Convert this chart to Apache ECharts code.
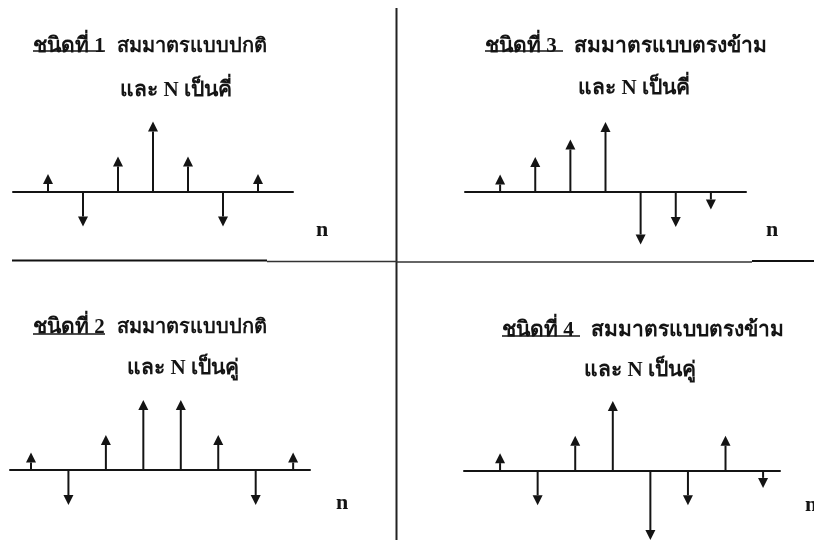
<!DOCTYPE html>
<html>
<head>
<meta charset="utf-8">
<script src="https://cdn.jsdelivr.net/npm/echarts@6/dist/echarts.min.js"></script>
<style>
  html, body { margin: 0; padding: 0; background: #fff; }
  #chart { width: 814px; height: 540px; }
</style>
</head>
<body>
<div id="chart"></div>
<script>
// ลำดับ n ของแต่ละชนิด (N คี่ = 7 จุด, N คู่ = 8 จุด)
var nOdd = [0, 1, 2, 3, 4, 5, 6];
var nEven = [0, 1, 2, 3, 4, 5, 6, 7];

// ค่าของ h(n) ที่อ่านจากภาพ (หน่วยความสูงลูกศร)
var type1 = [1, -2, 2, 4, 2, -2, 1];        // สมมาตรแบบปกติ, N คี่
var type2 = [1, -2, 2, 4, 4, 2, -2, 1];     // สมมาตรแบบปกติ, N คู่
var type3 = [1, 2, 3, 4, -3, -2, -1];       // สมมาตรแบบตรงข้าม, N คี่
var type4 = [1, -2, 2, 4, -4, -2, 2, -1];   // สมมาตรแบบตรงข้าม, N คู่

var titles1 = ['ชนิดที่ 1', 'สมมาตรแบบปกติ', 'และ N เป็นคี่'];
var titles2 = ['ชนิดที่ 2', 'สมมาตรแบบปกติ', 'และ N เป็นคู่'];
var titles3 = ['ชนิดที่ 3', 'สมมาตรแบบตรงข้าม', 'และ N เป็นคี่'];
var titles4 = ['ชนิดที่ 4', 'สมมาตรแบบตรงข้าม', 'และ N เป็นคู่'];

var INK = '#141414';
var FONT = '"Liberation Serif", "Noto Sans", serif';

function pairs(ns, vs) {
  return ns.map(function (n, i) { return [n, vs[i]]; });
}

// ก้านลูกศร + หัวลูกศร
function renderStem(params, api) {
  var x = api.value(0), v = api.value(1);
  var p0 = api.coord([x, 0]);
  var p1 = api.coord([x, v]);
  var dir = v >= 0 ? 1 : -1;
  var ah = 10, aw = 5;
  var baseY = p1[1] + dir * ah;
  return {
    type: 'group',
    children: [
      { type: 'line', shape: { x1: p0[0], y1: p0[1], x2: p1[0], y2: baseY },
        style: { stroke: INK, lineWidth: 2 } },
      { type: 'polygon',
        shape: { points: [[p1[0], p1[1]], [p1[0] - aw, baseY], [p1[0] + aw, baseY]] },
        style: { fill: INK } }
    ]
  };
}

// กรอบของแต่ละแผง
var panels = [
  { ns: nOdd,  vs: type1, grid: { left: 13,  top: 121.5, width: 280, height: 140 }, min: -1,    max: 7 },
  { ns: nOdd,  vs: type3, grid: { left: 465, top: 122,   width: 281, height: 140 }, min: -1,    max: 7 },
  { ns: nEven, vs: type2, grid: { left: 10,  top: 400,   width: 300, height: 140 }, min: -0.56, max: 7.45 },
  { ns: nEven, vs: type4, grid: { left: 464, top: 401,   width: 316, height: 140 }, min: -0.96, max: 7.45 }
];

var grids = [], xAxes = [], yAxes = [], series = [];
panels.forEach(function (p, i) {
  grids.push(p.grid);
  xAxes.push({
    type: 'value', gridIndex: i, min: p.min, max: p.max,
    axisLine: { show: true, onZero: true, lineStyle: { color: INK, width: 2 } },
    axisTick: { show: false }, axisLabel: { show: false }, splitLine: { show: false }
  });
  yAxes.push({ type: 'value', gridIndex: i, min: -4, max: 4, show: false });
  series.push({
    type: 'custom', xAxisIndex: i, yAxisIndex: i,
    renderItem: renderStem, data: pairs(p.ns, p.vs), silent: true
  });
});

function tStyle(size) {
  return { fontFamily: FONT, fontSize: size, fontWeight: 'bold', color: INK };
}

function titleBlock(t, x1, x2, y1, cx2, y2, restSize) {
  return [
    { text: t[0], left: x1, top: y1, padding: 0, textStyle: tStyle(21) },
    { text: t[1], left: x2, top: y1 - (restSize - 21) / 2, padding: 0, textStyle: tStyle(restSize) },
    { text: t[2], left: cx2, top: y2, padding: 0, textAlign: 'center', textStyle: tStyle(21) }
  ];
}

var nStyle = { fontFamily: '"Liberation Serif", serif', fontSize: 22, fontWeight: 'bold', color: INK };

var option = {
  backgroundColor: '#fff',
  animation: false,
  title: [].concat(
    titleBlock(titles1, 33, 117, 36, 176, 80, 20),
    titleBlock(titles3, 485, 574, 36, 634, 78, 21),
    titleBlock(titles2, 33, 117, 317, 183, 358, 20),
    titleBlock(titles4, 502, 591, 320, 640, 360, 21),
    [
      { text: 'n', left: 316, top: 219, padding: 0, textStyle: nStyle },
      { text: 'n', left: 766, top: 219, padding: 0, textStyle: nStyle },
      { text: 'n', left: 336, top: 492, padding: 0, textStyle: nStyle },
      { text: 'n', left: 805, top: 494, padding: 0, textStyle: nStyle }
    ]
  ),
  grid: grids,
  xAxis: xAxes,
  yAxis: yAxes,
  series: series,
  graphic: [
    // เส้นแบ่งแผง
    { type: 'line', shape: { x1: 396.5, y1: 8, x2: 396.5, y2: 540 }, style: { stroke: '#222', lineWidth: 2 } },
    { type: 'line', shape: { x1: 12, y1: 260.5, x2: 267, y2: 260.5 }, style: { stroke: '#111', lineWidth: 2 } },
    { type: 'line', shape: { x1: 267, y1: 261.5, x2: 397, y2: 261.5 }, style: { stroke: '#333', lineWidth: 1.5 } },
    { type: 'line', shape: { x1: 397, y1: 262, x2: 752, y2: 262 }, style: { stroke: '#333', lineWidth: 1.5 } },
    { type: 'line', shape: { x1: 752, y1: 261, x2: 814, y2: 261 }, style: { stroke: '#111', lineWidth: 2 } },
    // ขีดเส้นใต้ "ชนิดที่ ..."
    { type: 'line', shape: { x1: 33, y1: 51, x2: 105, y2: 51 }, style: { stroke: INK, lineWidth: 1.5 } },
    { type: 'line', shape: { x1: 485, y1: 51, x2: 563, y2: 51 }, style: { stroke: INK, lineWidth: 1.5 } },
    { type: 'line', shape: { x1: 33, y1: 334, x2: 105, y2: 334 }, style: { stroke: INK, lineWidth: 1.5 } },
    { type: 'line', shape: { x1: 502, y1: 336, x2: 580, y2: 336 }, style: { stroke: INK, lineWidth: 1.5 } }
  ]
};

var chart = echarts.init(document.getElementById('chart'));
chart.setOption(option);
</script>
</body>
</html>
